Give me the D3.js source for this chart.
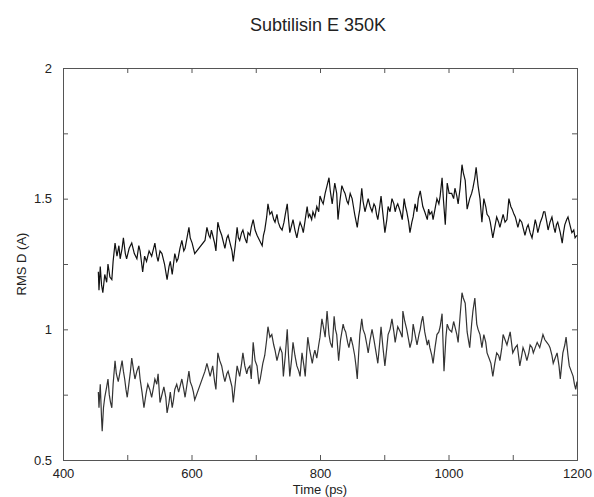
<!DOCTYPE html>
<html>
<head>
<meta charset="utf-8">
<script src="https://cdn.jsdelivr.net/npm/d3@7"></script>
<style>
  body { margin: 0; background: #fff; }
  svg text { font-family: "Liberation Sans", Arial, sans-serif; fill: #222; }
  .axis path, .axis line { stroke: #555; }
</style>
</head>
<body>
<div id="chart"></div>
<script>
// chart text
var title = 'Subtilisin E 350K';
var xLabel = 'Time (ps)';
var yLabel = 'RMS D (A)';
var xDomain = [400, 1200];
var yDomain = [0.5, 2];
var xTicks = [400, 500, 600, 700, 800, 900, 1000, 1100, 1200];
var yTicks = [0.5, 0.75, 1, 1.25, 1.5, 1.75, 2];

// [time (ps), rmsd]
var upperSeries = [
  [455,1.22],[456,1.15],[458,1.24],[460,1.17],[462,1.14],[465,1.21],[468,1.18],[470,1.25],[473,1.2],[476,1.19],
  [478,1.26],[481,1.33],[484,1.28],[487,1.32],[489,1.27],[492,1.31],[494,1.35],[497,1.29],[499,1.27],[503,1.31],
  [507,1.33],[511,1.29],[515,1.27],[518,1.32],[520,1.3],[524,1.22],[527,1.28],[530,1.26],[534,1.3],[538,1.28],
  [541,1.31],[543,1.33],[546,1.28],[548,1.26],[551,1.3],[554,1.29],[558,1.25],[562,1.19],[565,1.24],[567,1.26],
  [570,1.21],[572,1.25],[574,1.29],[577,1.26],[579,1.27],[582,1.31],[585,1.34],[588,1.3],[590,1.31],[593,1.35],
  [596,1.39],[598,1.35],[601,1.33],[603,1.31],[605,1.29],[621,1.34],[624,1.39],[627,1.36],[629,1.35],[631,1.38],
  [633,1.36],[636,1.33],[638,1.30],[641,1.41],[644,1.38],[647,1.36],[650,1.33],[652,1.31],[655,1.35],[657,1.36],
  [660,1.33],[663,1.3],[665,1.26],[668,1.32],[671,1.39],[673,1.35],[675,1.34],[678,1.37],[680,1.38],[683,1.35],
  [686,1.33],[688,1.37],[691,1.36],[693,1.39],[696,1.42],[699,1.38],[702,1.36],[706,1.34],[710,1.32],[712,1.36],
  [714,1.38],[717,1.43],[719,1.48],[722,1.44],[725,1.45],[728,1.42],[730,1.41],[733,1.44],[735,1.41],[738,1.39],
  [741,1.38],[744,1.41],[746,1.44],[749,1.48],[751,1.42],[753,1.37],[756,1.4],[758,1.42],[761,1.38],[764,1.35],
  [767,1.39],[769,1.41],[772,1.39],[774,1.37],[777,1.42],[780,1.47],[782,1.43],[784,1.44],[787,1.42],[789,1.45],
  [792,1.43],[795,1.47],[798,1.45],[800,1.51],[803,1.49],[805,1.48],[808,1.52],[811,1.55],[814,1.58],[816,1.53],
  [819,1.48],[821,1.52],[823,1.56],[826,1.52],[828,1.42],[831,1.49],[834,1.55],[837,1.53],[839,1.52],[842,1.49],
  [844,1.48],[847,1.52],[850,1.5],[852,1.47],[854,1.44],[858,1.39],[860,1.43],[862,1.46],[865,1.54],[867,1.49],
  [870,1.45],[873,1.48],[875,1.5],[878,1.47],[881,1.45],[884,1.48],[886,1.47],[888,1.44],[890,1.42],[893,1.47],
  [895,1.51],[898,1.44],[901,1.37],[904,1.42],[906,1.47],[909,1.45],[912,1.5],[915,1.48],[917,1.45],[919,1.47],
  [921,1.48],[925,1.45],[928,1.42],[931,1.5],[933,1.47],[935,1.45],[938,1.41],[940,1.37],[943,1.41],[945,1.43],
  [948,1.48],[951,1.45],[953,1.5],[956,1.53],[958,1.5],[960,1.47],[963,1.45],[967,1.42],[969,1.46],[971,1.44],
  [974,1.45],[976,1.42],[979,1.46],[982,1.5],[985,1.48],[987,1.51],[990,1.58],[992,1.5],[995,1.40],[998,1.56],
  [1001,1.52],[1005,1.52],[1008,1.5],[1010,1.54],[1013,1.51],[1015,1.48],[1018,1.54],[1021,1.63],[1023,1.6],[1026,1.57],
  [1029,1.46],[1031,1.48],[1033,1.5],[1036,1.52],[1038,1.54],[1041,1.58],[1043,1.62],[1046,1.55],[1049,1.5],[1052,1.41],
  [1055,1.5],[1058,1.47],[1060,1.44],[1063,1.43],[1065,1.41],[1069,1.35],[1072,1.39],[1075,1.43],[1078,1.41],[1080,1.39],
  [1083,1.42],[1085,1.44],[1088,1.41],[1091,1.42],[1094,1.5],[1097,1.47],[1099,1.46],[1102,1.44],[1104,1.43],[1106,1.41],
  [1108,1.39],[1111,1.42],[1114,1.41],[1117,1.38],[1119,1.36],[1122,1.39],[1124,1.40],[1127,1.37],[1130,1.35],[1133,1.39],
  [1135,1.42],[1137,1.4],[1139,1.37],[1143,1.41],[1146,1.43],[1148,1.45],[1150,1.45],[1153,1.41],[1155,1.38],[1158,1.41],
  [1161,1.43],[1164,1.39],[1166,1.37],[1168,1.4],[1170,1.41],[1174,1.37],[1177,1.33],[1179,1.37],[1181,1.40],[1184,1.42],
  [1186,1.43],[1189,1.4],[1192,1.37],[1195,1.38],[1197,1.35],[1200,1.36]
];

var lowerSeries = [
  [455,0.76],[456,0.70],[458,0.79],[460,0.66],[461,0.61],[463,0.70],[465,0.74],[468,0.78],[470,0.81],[472,0.75],
  [474,0.72],[476,0.70],[478,0.79],[481,0.88],[483,0.83],[486,0.80],[489,0.84],[492,0.88],[494,0.84],[496,0.81],
  [498,0.77],[500,0.74],[503,0.8],[505,0.84],[507,0.89],[510,0.84],[512,0.81],[515,0.84],[518,0.86],[520,0.81],
  [523,0.76],[526,0.70],[529,0.75],[532,0.79],[535,0.77],[538,0.74],[541,0.78],[543,0.81],[546,0.79],[548,0.83],
  [551,0.72],[554,0.75],[557,0.78],[560,0.74],[562,0.68],[565,0.72],[567,0.76],[570,0.7],[572,0.73],[574,0.77],
  [577,0.79],[580,0.76],[582,0.78],[585,0.81],[588,0.77],[590,0.74],[593,0.79],[596,0.84],[598,0.8],[601,0.78],
  [603,0.76],[605,0.73],[621,0.84],[624,0.87],[627,0.84],[629,0.82],[631,0.84],[633,0.86],[636,0.8],[638,0.77],
  [641,0.91],[644,0.88],[647,0.86],[650,0.82],[652,0.8],[655,0.83],[657,0.84],[660,0.81],[663,0.78],[665,0.72],
  [668,0.79],[671,0.86],[673,0.84],[675,0.82],[678,0.87],[680,0.91],[683,0.86],[686,0.83],[688,0.85],[691,0.86],
  [693,0.81],[696,0.95],[699,0.88],[702,0.86],[705,0.79],[707,0.81],[709,0.84],[711,0.87],[714,0.9],[717,0.96],
  [719,1.01],[722,0.97],[725,0.98],[728,0.94],[730,0.92],[733,0.88],[735,0.9],[738,0.93],[741,0.91],[743,0.82],
  [746,0.9],[749,1.0],[751,0.9],[753,0.82],[756,0.89],[758,0.95],[761,0.9],[764,0.86],[767,0.84],[769,0.82],
  [772,0.91],[775,0.86],[777,0.82],[779,0.9],[781,0.97],[784,0.92],[788,0.87],[790,0.9],[792,0.92],[795,0.89],
  [798,0.94],[800,0.97],[803,1.04],[806,1.0],[808,0.97],[811,1.07],[814,0.98],[816,0.95],[819,0.93],[822,1.05],
  [824,1.0],[826,0.98],[829,0.88],[832,0.96],[836,1.02],[838,1.0],[840,0.99],[843,0.95],[845,0.93],[848,0.97],
  [851,0.94],[854,0.9],[856,0.86],[858,0.81],[860,0.9],[862,0.98],[865,1.04],[867,1.0],[870,0.98],[873,0.94],
  [875,0.91],[878,0.96],[881,1.0],[884,0.96],[886,0.93],[888,0.9],[890,0.87],[893,0.95],[895,1.01],[898,0.93],
  [901,0.86],[904,0.93],[906,0.98],[909,1.0],[912,1.04],[915,0.99],[917,0.95],[919,0.98],[921,1.01],[925,0.99],
  [928,0.97],[929,1.07],[932,1.03],[935,1.0],[938,0.96],[940,0.93],[943,0.96],[945,1.02],[948,0.98],[951,0.94],
  [954,0.98],[956,1.0],[958,1.03],[960,1.05],[963,0.99],[967,0.94],[969,0.96],[971,0.93],[974,0.9],[976,0.87],
  [979,0.93],[982,0.98],[985,0.99],[987,1.01],[990,1.06],[993,0.84],[996,0.97],[998,1.02],[1001,1.0],[1005,0.99],
  [1008,1.03],[1010,1.01],[1013,0.98],[1015,0.95],[1018,1.05],[1021,1.14],[1023,1.12],[1026,1.1],[1029,0.99],[1031,0.96],
  [1033,0.93],[1036,1.02],[1038,1.07],[1041,1.12],[1044,1.02],[1046,1.0],[1049,0.98],[1052,0.93],[1055,0.98],[1058,0.95],
  [1060,0.91],[1063,0.89],[1066,0.87],[1069,0.82],[1072,0.87],[1075,0.91],[1078,0.9],[1080,0.88],[1083,0.93],[1085,0.98],
  [1088,0.96],[1091,0.94],[1094,0.97],[1096,0.99],[1098,0.95],[1100,0.91],[1104,0.93],[1107,0.94],[1109,0.9],[1111,0.86],
  [1114,0.9],[1116,0.93],[1119,0.91],[1122,0.88],[1125,0.91],[1127,0.94],[1130,0.93],[1132,0.91],[1135,0.93],[1138,0.95],
  [1140,0.94],[1142,0.93],[1145,0.96],[1147,0.98],[1150,0.96],[1153,0.95],[1156,0.94],[1158,0.93],[1161,0.9],[1163,0.87],
  [1166,0.89],[1169,0.91],[1172,0.86],[1174,0.81],[1176,0.86],[1178,0.91],[1181,0.94],[1183,0.97],[1186,0.9],[1188,0.86],
  [1191,0.84],[1194,0.82],[1196,0.79],[1198,0.77],[1200,0.8]
];

var width = 594, height = 497;
var margin = {top: 68, right: 17, bottom: 37, left: 63};
var w = width - margin.left - margin.right;
var h = height - margin.top - margin.bottom;

var svg = d3.select('#chart').append('svg').attr('width', width).attr('height', height);
var g = svg.append('g').attr('transform', 'translate(' + margin.left + ',' + margin.top + ')');

var x = d3.scaleLinear().domain(xDomain).range([0, w]);
var y = d3.scaleLinear().domain(yDomain).range([h, 0]);

var xFmt = function (d) { return d % 200 === 0 ? d : ''; };
var yFmt = function (d) { return d % 0.5 === 0 ? d : ''; };

g.append('g').attr('class', 'axis').attr('transform', 'translate(0,' + h + ')')
  .call(d3.axisBottom(x).tickValues(xTicks).tickFormat(xFmt).tickSize(-5).tickPadding(9));
g.append('g').attr('class', 'axis')
  .call(d3.axisTop(x).tickValues(xTicks).tickFormat('').tickSize(-5));
g.append('g').attr('class', 'axis')
  .call(d3.axisLeft(y).tickValues(yTicks).tickFormat(yFmt).tickSize(-5).tickPadding(11));
g.append('g').attr('class', 'axis').attr('transform', 'translate(' + w + ',0)')
  .call(d3.axisRight(y).tickValues(yTicks).tickFormat('').tickSize(-5));

g.selectAll('.axis text').style('font-size', '13px');

var line = d3.line().x(function (d) { return x(d[0]); }).y(function (d) { return y(d[1]); });

g.append('path').datum(lowerSeries).attr('d', line)
  .attr('fill', 'none').attr('stroke', '#333').attr('stroke-width', 1.2);
g.append('path').datum(upperSeries).attr('d', line)
  .attr('fill', 'none').attr('stroke', '#111').attr('stroke-width', 1.2);

svg.append('text').attr('x', 318).attr('y', 31).attr('text-anchor', 'middle')
  .style('font-size', '18px').text(title);
svg.append('text').attr('x', margin.left + w / 2).attr('y', 494).attr('text-anchor', 'middle')
  .style('font-size', '13px').text(xLabel);
svg.append('text').attr('transform', 'translate(26,' + (margin.top + h / 2) + ') rotate(-90)')
  .attr('text-anchor', 'middle').style('font-size', '13px').text(yLabel);
</script>
</body>
</html>
